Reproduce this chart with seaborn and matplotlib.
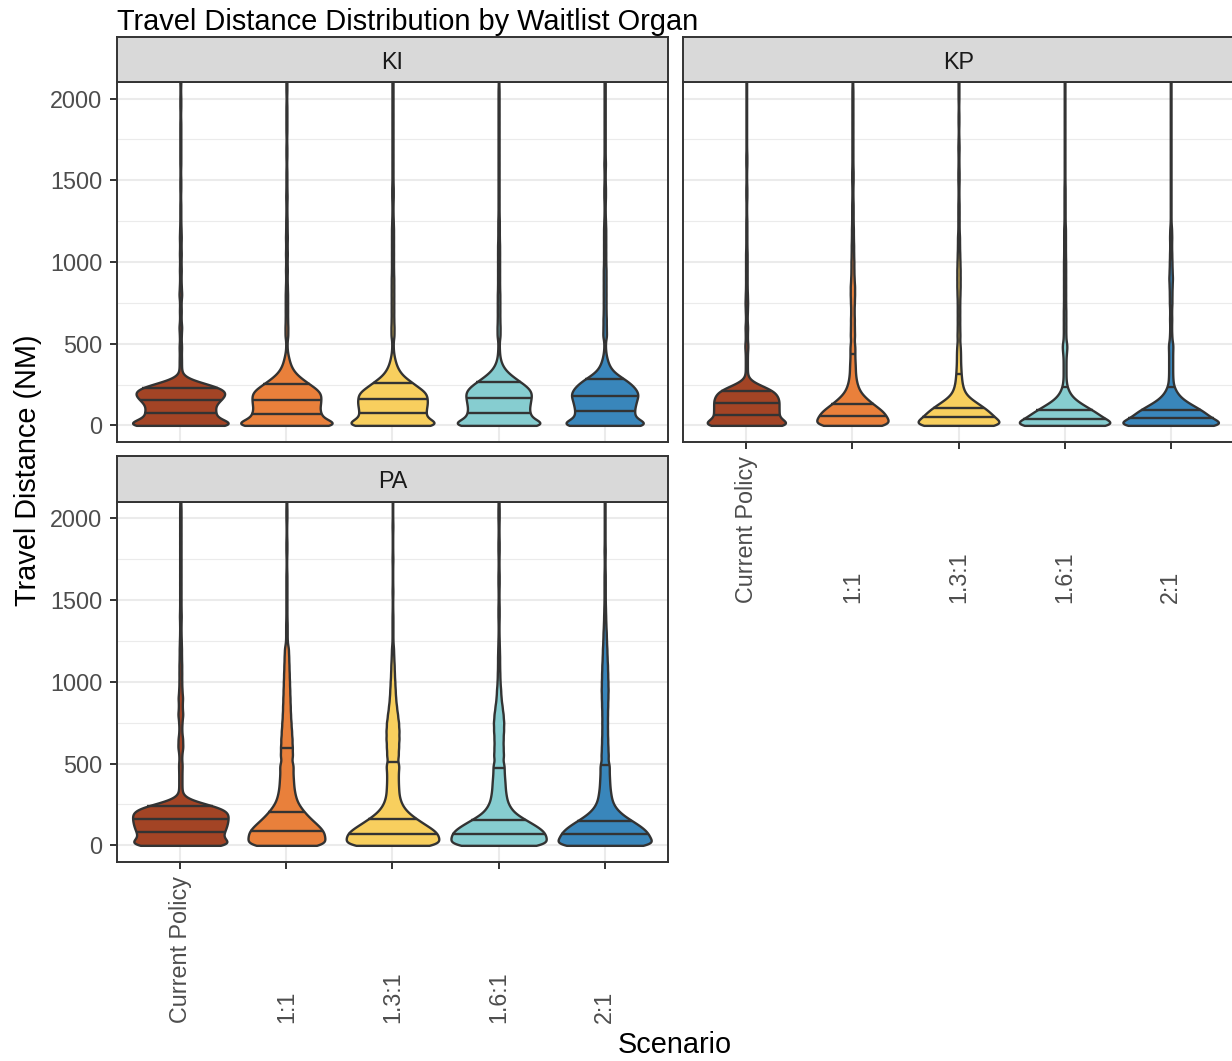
import numpy as np
import pandas as pd
import matplotlib
matplotlib.use("Agg")
import matplotlib.pyplot as plt
from matplotlib.ticker import MultipleLocator
from matplotlib.transforms import blended_transform_factory
import seaborn as sns

plt.rcParams["font.family"] = ["Liberation Sans", "DejaVu Sans"]

# Travel distance bins (NM); every series below gives the number of
# transplants whose travel distance falls in the matching bin.
distance_grid = [0, 25, 50, 75, 100, 125, 150, 175, 200, 225, 250, 275, 300,
                 325, 350, 375, 400, 425, 450, 475, 500,
                 550, 600, 650, 700, 750, 800, 850, 900, 950, 1000, 1050,
                 1100, 1150, 1200,
                 1250, 1300, 1350, 1400, 1450, 1500, 1550, 1600, 1650, 1700,
                 1750, 1800, 1850, 1900, 1950, 2000, 2050, 2100, 2150, 2200,
                 2250, 2300, 2350, 2400, 2450, 2500, 2550, 2600]

scenarios = ["Current Policy", "1:1", "1.3:1", "1.6:1", "2:1"]
organs = ["KI", "KP", "PA"]
scenario_colors = ["#A34425", "#E9803B", "#F8CF5E", "#86CDD0", "#3986BB"]

# Kidney (KI)
ki_current = [177, 85, 71, 78, 73, 73, 83, 95, 99, 95, 62, 24, 6, 2, 3, 2, 3, 2, 2, 3, 3,
              4, 6, 3, 4, 3, 6, 4, 3, 4, 3, 4, 3, 4, 3,
              2, 2, 2, 1, 2, 2, 1, 2, 2, 2, 2, 2, 2, 1,
              2, 2, 1, 2, 2, 2, 2, 1, 2, 2, 1, 2, 2, 2]
ki_1_1 = [168, 81, 72, 76, 67, 74, 72, 74, 74, 64, 50, 38, 26, 17, 12, 8, 6, 4, 2, 1, 2,
          6, 6, 5, 5, 5, 5, 4, 3, 4, 3, 4, 3, 4, 3,
          3, 2, 2, 3, 2, 2, 2, 1, 2, 2, 1, 2, 2, 2,
          2, 1, 2, 2, 1, 1, 2, 1, 1, 1, 1, 2, 1, 1]
ki_1_3 = [136, 71, 63, 67, 65, 69, 69, 67, 69, 54, 44, 33, 21, 15, 10, 7, 5, 3, 2, 1, 2,
          6, 6, 5, 5, 5, 5, 5, 5, 4, 4, 4, 4, 4, 4,
          3, 2, 2, 3, 3, 2, 2, 2, 2, 2, 2, 2, 2, 2,
          2, 2, 2, 2, 2, 2, 2, 1, 1, 2, 2, 1, 1, 2]
ki_1_6 = [140, 69, 62, 64, 58, 64, 62, 66, 66, 62, 51, 39, 28, 17, 11, 6, 4, 2, 2, 1, 2,
          6, 6, 5, 5, 5, 5, 4, 4, 4, 4, 4, 4, 3, 3,
          3, 2, 2, 2, 2, 2, 2, 2, 2, 2, 2, 2, 2, 2,
          2, 2, 2, 1, 1, 2, 2, 1, 1, 2, 2, 1, 1, 2]
ki_2_1 = [122, 58, 52, 56, 52, 58, 56, 62, 62, 56, 50, 40, 28, 16, 11, 7, 5, 3, 2, 1, 2,
          7, 6, 6, 5, 5, 5, 5, 5, 5, 4, 4, 4, 4, 4,
          3, 2, 2, 3, 3, 2, 2, 3, 2, 2, 2, 2, 2, 2,
          2, 2, 2, 2, 2, 2, 2, 2, 2, 1, 1, 2, 2, 1]

# Kidney-pancreas (KP)
kp_current = [125, 64, 60, 64, 62, 62, 64, 60, 58, 46, 22, 6, 2, 2, 2, 2, 2, 2, 2, 3, 4,
              4, 5, 3, 4, 5, 4, 3, 3, 3, 3, 3, 2, 2, 2,
              2, 1, 1, 2, 2, 1, 1, 2, 2, 1, 1, 1, 1, 1,
              1, 1, 1, 1, 1, 1, 1, 1, 1, 1, 1, 1, 1, 1]
kp_1_1 = [99, 72, 72, 68, 58, 45, 35, 25, 17, 13, 10, 8, 7, 6, 6, 6, 5, 5, 5, 5, 6,
          9, 8, 8, 7, 8, 9, 9, 7, 6, 6, 5, 5, 4, 4,
          3, 3, 3, 2, 2, 3, 3, 2, 2, 2, 2, 2, 2, 2,
          2, 2, 2, 1, 1, 2, 2, 1, 1, 2, 2, 1, 1, 2]
kp_1_3 = [145, 93, 88, 79, 67, 53, 37, 23, 15, 12, 9, 8, 7, 6, 6, 5, 5, 5, 5, 4, 5,
          7, 6, 6, 6, 6, 7, 8, 8, 8, 7, 6, 5, 5, 3,
          3, 3, 3, 2, 2, 3, 3, 2, 2, 3, 2, 1, 2, 2,
          1, 2, 2, 2, 2, 1, 2, 2, 1, 2, 1, 1, 1, 1]
kp_1_6 = [202, 115, 107, 93, 73, 53, 34, 21, 14, 8, 6, 4, 4, 4, 4, 4, 4, 4, 6, 6, 9,
          7, 7, 7, 7, 6, 6, 6, 6, 6, 6, 5, 5, 5, 5,
          3, 3, 3, 3, 3, 2, 2, 2, 2, 2, 2, 2, 2, 2,
          2, 2, 2, 2, 2, 2, 2, 2, 2, 1, 1, 2, 2, 1]
kp_2_1 = [210, 116, 108, 97, 80, 58, 39, 25, 17, 11, 7, 6, 6, 5, 6, 5, 6, 5, 6, 5, 9,
          6, 5, 6, 5, 7, 7, 8, 10, 8, 7, 6, 5, 6, 5,
          2, 2, 2, 2, 2, 2, 2, 2, 2, 2, 2, 2, 2, 2,
          2, 2, 2, 2, 2, 1, 1, 2, 2, 1, 1, 2, 2, 1]

# Pancreas (PA)
pa_current = [151, 95, 90, 95, 99, 102, 104, 104, 106, 97, 61, 20, 6, 3, 4, 3, 4, 3, 4, 3, 6,
              6, 11, 10, 6, 7, 11, 8, 10, 7, 6, 6, 6, 5, 5,
              4, 3, 3, 4, 3, 3, 3, 3, 3, 3, 3, 3, 3, 3,
              3, 3, 3, 2, 2, 3, 2, 2, 3, 2, 2, 2, 2, 3]
pa_1_1 = [96, 72, 76, 76, 70, 62, 52, 44, 36, 30, 24, 20, 18, 16, 15, 14, 14, 13, 13, 12, 18,
          24, 23, 22, 20, 18, 16, 15, 14, 13, 12, 11, 10, 9, 8,
          3, 3, 3, 2, 2, 2, 2, 2, 2, 1, 1, 2, 2, 1,
          1, 2, 2, 1, 4, 4, 4, 4, 4, 4, 4, 4, 4, 4]
pa_1_3 = [143, 104, 114, 109, 97, 79, 65, 50, 37, 29, 22, 19, 16, 15, 15, 14, 14, 14, 14, 14, 21,
          28, 29, 31, 31, 29, 24, 19, 15, 13, 11, 9, 8, 6, 5,
          2, 2, 2, 2, 1, 1, 2, 1, 1, 1, 2, 1, 1, 1,
          2, 1, 1, 1, 2, 1, 1, 1, 2, 1, 1, 1, 2, 1]
pa_1_6 = [147, 109, 117, 114, 104, 87, 70, 52, 37, 30, 24, 20, 19, 17, 16, 16, 15, 14, 14, 12, 18,
          24, 22, 22, 24, 25, 22, 17, 12, 10, 7, 6, 5, 5, 4,
          3, 2, 2, 3, 3, 2, 2, 3, 3, 2, 2, 3, 3, 2,
          2, 3, 3, 2, 4, 3, 3, 4, 4, 4, 4, 3, 4, 4]
pa_2_1 = [159, 109, 114, 109, 99, 85, 68, 51, 38, 28, 22, 18, 16, 15, 13, 13, 12, 12, 11, 11, 15,
          18, 16, 15, 14, 14, 14, 15, 16, 17, 16, 15, 14, 12, 11,
          9, 8, 6, 5, 4, 3, 3, 3, 3, 2, 2, 3, 2, 2,
          2, 2, 2, 2, 2, 2, 2, 2, 2, 2, 2, 2, 2, 2]

bin_counts = {
    "KI": [ki_current, ki_1_1, ki_1_3, ki_1_6, ki_2_1],
    "KP": [kp_current, kp_1_1, kp_1_3, kp_1_6, kp_2_1],
    "PA": [pa_current, pa_1_1, pa_1_3, pa_1_6, pa_2_1],
}

frames = []
for organ in organs:
    for scenario, counts in zip(scenarios, bin_counts[organ]):
        frames.append(pd.DataFrame({
            "organ": organ,
            "scenario": scenario,
            "distance": np.repeat(distance_grid, counts),
        }))
travel = pd.concat(frames, ignore_index=True)

KDE_BANDWIDTH = 26.0  # NM


def fixed_bandwidth(kde):
    return KDE_BANDWIDTH / np.std(kde.dataset, ddof=1)


INK = "#333333"
LINE_W = 1.7


def add_quartile_lines(ax):
    """Quartiles of each drawn density (area under the violin outline)."""
    for coll in list(ax.collections):
        paths = coll.get_paths()
        if not paths:
            continue
        verts = paths[0].vertices
        pos = np.round(verts[:, 0].mean())
        right = verts[verts[:, 0] > pos]
        order = np.argsort(right[:, 1])
        y = right[order, 1]
        hw = right[order, 0] - pos
        y, idx = np.unique(y, return_index=True)
        hw = hw[idx]
        cdf = np.concatenate([[0.0], np.cumsum(0.5 * (hw[1:] + hw[:-1]) * np.diff(y))])
        cdf /= cdf[-1]
        for q in (0.25, 0.5, 0.75):
            yq = np.interp(q, cdf, y)
            wq = np.interp(yq, y, hw)
            ax.plot([pos - wq, pos + wq], [yq, yq], color=INK, lw=LINE_W,
                    solid_capstyle="butt", zorder=3)


W, H = 1232, 1061


def rect(left, top, right, bottom):
    return [left / W, 1 - bottom / H, (right - left) / W, (bottom - top) / H]


fig = plt.figure(figsize=(W / 100, H / 100), dpi=100)

panel_boxes = {
    "KI": (116.7, 82.3, 668.3, 441.7),
    "KP": (682.7, 82.3, 1234.3, 441.7),
    "PA": (116.7, 501.7, 668.3, 861.7),
}
STRIP_H = 45.6
TICK_FS = 16.8

for organ in organs:
    left, top, right, bottom = panel_boxes[organ]
    ax = fig.add_axes(rect(left, top, right, bottom))
    sub = travel[travel["organ"] == organ]
    sns.violinplot(
        data=sub, x="scenario", y="distance", hue="scenario",
        order=scenarios, hue_order=scenarios, palette=scenario_colors,
        legend=False, cut=0, inner=None, density_norm="count",
        common_norm=True, width=0.9, gridsize=1500,
        bw_method=fixed_bandwidth, saturation=1,
        linewidth=LINE_W, linecolor=INK, ax=ax,
    )
    add_quartile_lines(ax)

    ax.set_xlim(-0.6, 4.6)
    ax.set_ylim(-100, 2100)
    ax.set_xlabel("")
    ax.set_ylabel("")
    ax.set_xticks(range(len(scenarios)))
    ax.set_yticks([0, 500, 1000, 1500, 2000])
    ax.yaxis.set_minor_locator(MultipleLocator(250))
    ax.set_axisbelow(True)
    ax.grid(True, which="major", color="#EBEBEB", lw=1.5)
    ax.grid(True, which="minor", axis="y", color="#EBEBEB", lw=0.8)
    ax.tick_params(which="minor", length=0)
    ax.tick_params(which="major", length=4.7, width=1.4, color=INK,
                   labelsize=TICK_FS, labelcolor="#4D4D4D", pad=5.5)
    ax.tick_params(axis="x", labelbottom=False)
    for sp in ax.spines.values():
        sp.set_color(INK)
        sp.set_linewidth(1.4)

    if organ == "KP":
        ax.tick_params(axis="y", left=False, labelleft=False)
    if organ == "KI":
        ax.tick_params(axis="x", bottom=False)
    else:
        trans = blended_transform_factory(ax.transData, ax.transAxes)
        label_y = -161.0 / (bottom - top)
        for i, name in enumerate(scenarios):
            ax.text(i, label_y, name, transform=trans, rotation=90,
                    ha="center", va="bottom", fontsize=TICK_FS,
                    color="#4D4D4D")

    # facet strip
    sax = fig.add_axes(rect(left, top - STRIP_H, right, top))
    sax.set_facecolor("#D9D9D9")
    sax.set_xticks([])
    sax.set_yticks([])
    for sp in sax.spines.values():
        sp.set_color(INK)
        sp.set_linewidth(1.4)
    sax.text(0.5, 0.44, organ, transform=sax.transAxes, ha="center",
             va="center", fontsize=TICK_FS, color="#1A1A1A")

fig.text(117 / W, 1 - 29.5 / H, "Travel Distance Distribution by Waitlist Organ",
         ha="left", va="baseline", fontsize=20.9, color="black")
fig.text(675 / W, 1 - 1053 / H, "Scenario", ha="center", va="baseline",
         fontsize=20.8, color="black")
fig.text(28 / W, 1 - 470 / H, "Travel Distance (NM)", rotation=90,
         ha="center", va="center", fontsize=20.8, color="black")

fig.savefig("out.png", dpi=100)
